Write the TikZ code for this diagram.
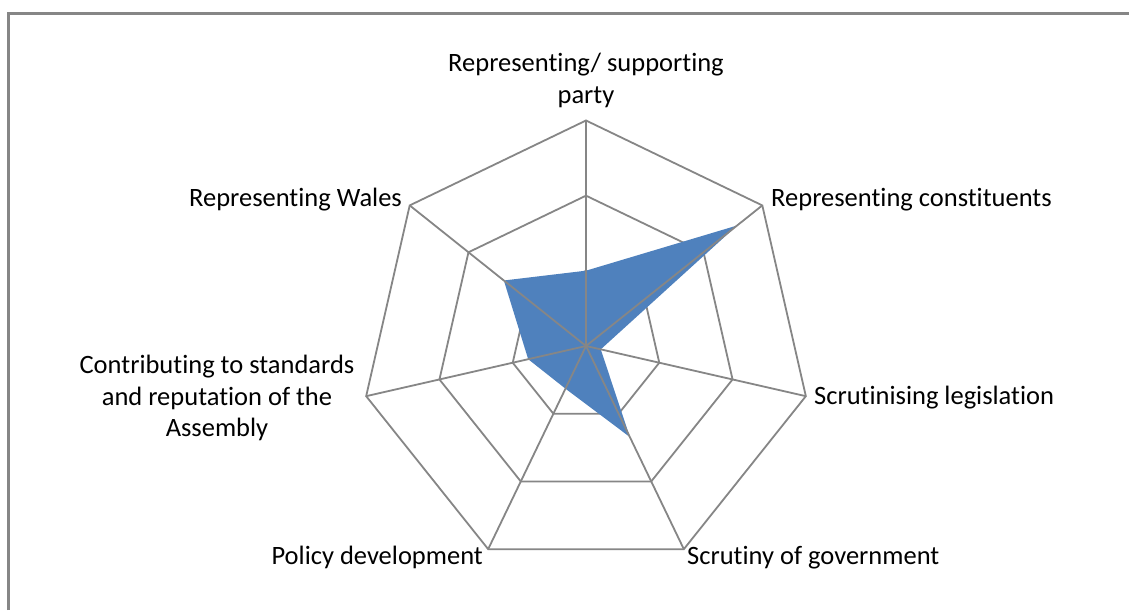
\documentclass[tikz,border=0pt]{standalone}
\usepackage{fontspec}
\setmainfont{Carlito}[Ligatures=NoCommon,RawFeature=-liga]
\definecolor{gridgray}{HTML}{868686}
\definecolor{serieblue}{HTML}{4F81BD}
\tikzset{
  ring/.style={draw=gridgray, line width=1.8pt, line join=miter},
  spoke/.style={draw=gridgray, line width=1.8pt},
  frameline/.style={draw=gridgray, line width=2.2pt},
  lbl/.style={font=\fontsize{26.5}{31.8}\selectfont, inner sep=0pt, text=black},
}
\begin{document}
\begin{tikzpicture}[x=1pt,y=1pt]
\fill[white] (0,0) rectangle (1129,610);
\useasboundingbox (0,0) rectangle (1129,610);
\draw[frameline] (8.5,0) -- (8.5,596.5) -- (1129,596.5);
\coordinate (C) at (586,264);
\foreach \k/\v in {0/0.334,1/0.857,2/0.067,3/0.448,4/0.21,5/0.263,6/0.466} {
  \pgfmathsetmacro\ang{90-\k*360/7}
  \pgfmathsetmacro\ro{225.5}
  \pgfmathsetmacro\rm{225.5*2/3}
  \pgfmathsetmacro\ri{225.5/3}
  \pgfmathsetmacro\rd{225.5*\v}
  \coordinate (o\k) at ([shift={(\ang:\ro)}]C);
  \coordinate (m\k) at ([shift={(\ang:\rm)}]C);
  \coordinate (i\k) at ([shift={(\ang:\ri)}]C);
  \coordinate (d\k) at ([shift={(\ang:\rd)}]C);
}
% rings
\draw[ring] (o0) \foreach \k in {1,...,6}{ -- (o\k)} -- cycle;
\draw[ring] (m0) \foreach \k in {1,...,6}{ -- (m\k)} -- cycle;
\draw[ring] (i0) \foreach \k in {1,...,6}{ -- (i\k)} -- cycle;
% data series
\fill[serieblue] (d0) \foreach \k in {1,...,6}{ -- (d\k)} -- cycle;
% spokes
\foreach \k in {0,...,6} { \draw[spoke] (C) -- (o\k); }
% labels
\node[lbl, anchor=base, align=center] (party) at (586,506.4) {Representing/ supporting\\party};
\node[lbl, anchor=base west] (cons) at (771,403) {Representing constituents};
\node[lbl, anchor=base east] (wales) at (402,403) {Representing Wales};
\node[lbl, anchor=base west] (legis) at (814,205) {Scrutinising legislation};
\node[lbl, anchor=base west] (gov) at (687,45) {Scrutiny of government};
\node[lbl, anchor=base east] (policy) at (483,45) {Policy development};
\node[lbl, anchor=base, align=center] (contrib) at (217,173) {Contributing to standards\\and reputation of the\\Assembly};
\end{tikzpicture}
\end{document}
